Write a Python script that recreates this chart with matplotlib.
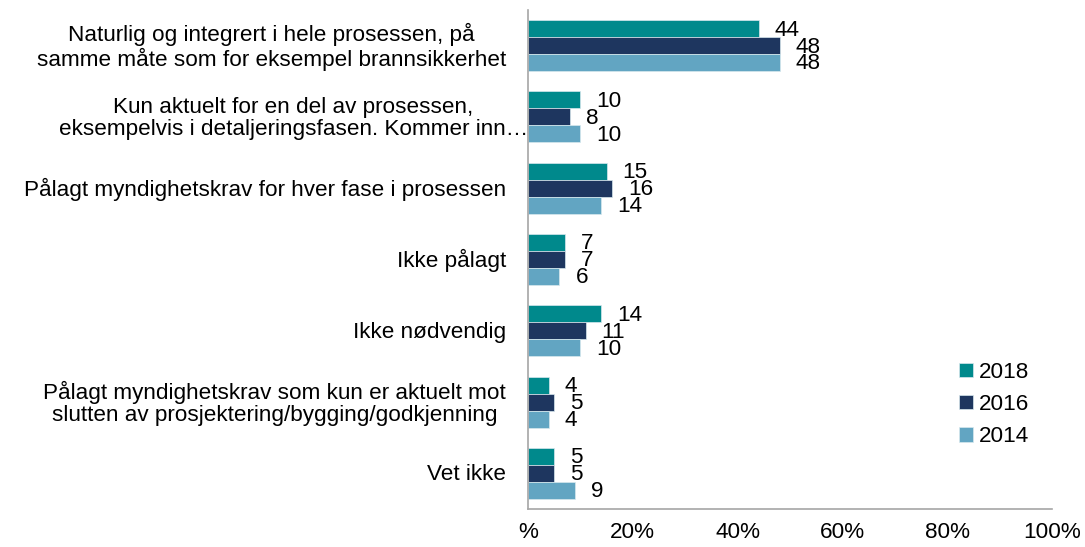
import numpy as np
import matplotlib.pyplot as plt

plt.rcParams['font.family'] = ['Liberation Sans', 'DejaVu Sans']

# kategorier, ovenfra og ned
kategorier = [
    "Naturlig og integrert i hele prosessen, på\nsamme måte som for eksempel brannsikkerhet",
    "Kun aktuelt for en del av prosessen,\neksempelvis i detaljeringsfasen. Kommer inn…",
    "Pålagt myndighetskrav for hver fase i prosessen",
    "Ikke pålagt",
    "Ikke nødvendig",
    "Pålagt myndighetskrav som kun er aktuelt mot\nslutten av prosjektering/bygging/godkjenning",
    "Vet ikke",
]
aar = ["2018", "2016", "2014"]
v2018 = [44, 10, 15, 7, 14, 4, 5]
v2016 = [48, 8, 16, 7, 11, 5, 5]
v2014 = [48, 10, 14, 6, 10, 4, 9]
farger = ["#00898C", "#1E365F", "#62A5C2"]

tick_pos = [0, 20, 40, 60, 80, 100]
tick_txt = ["%", "20%", "40%", "60%", "80%", "100%"]

fs = 16.2

fig = plt.figure(figsize=(10.85, 5.47), dpi=100)
ax = fig.add_axes([528/1085, 1-509/547, (1052-528)/1085, (509-10)/547])

y = np.arange(len(kategorier))
h = 0.238
serier = [v2018, v2016, v2014]
for k, (vals, navn) in enumerate(zip(serier, aar)):
    pos = y + (k-1)*h
    ax.barh(pos, vals, height=h, color=farger[k], edgecolor='#d8e8ee',
            linewidth=0.5, label=navn)
    for p, v in zip(pos, vals):
        ax.annotate(str(v), (v, p), xytext=(11.5, -1), textcoords='offset points',
                    ha='left', va='center', fontsize=fs)

ax.set_ylim(len(kategorier)-0.5, -0.5)
ax.set_xlim(0, 100)
ax.set_xticks(tick_pos)
ax.set_xticklabels(tick_txt, fontsize=fs)
ax.tick_params(axis='x', length=0, pad=9)
ax.set_yticks([])

for s in ['top', 'right']:
    ax.spines[s].set_visible(False)
for s in ['left', 'bottom']:
    ax.spines[s].set_color('#A6A6A6')
    ax.spines[s].set_linewidth(1.2)

# kategoritekster, sentrert blokk til venstre for aksen
for i, tekst in enumerate(kategorier):
    dx = -16 if i != 1 else 0
    ax.annotate(tekst, (0, i), xycoords=('axes fraction', 'data'),
                xytext=(dx, -1), textcoords='offset points',
                ha='right', va='center', multialignment='center',
                fontsize=fs, linespacing=1.1, annotation_clip=False)

fig.legend(loc='upper left', bbox_to_anchor=(959/1085, 1-362/547), frameon=False,
           fontsize=fs, handlelength=0.6, handleheight=0.6, handletextpad=0.3,
           labelspacing=0.5, borderaxespad=0, borderpad=0)

fig.savefig('out.png', dpi=100)
